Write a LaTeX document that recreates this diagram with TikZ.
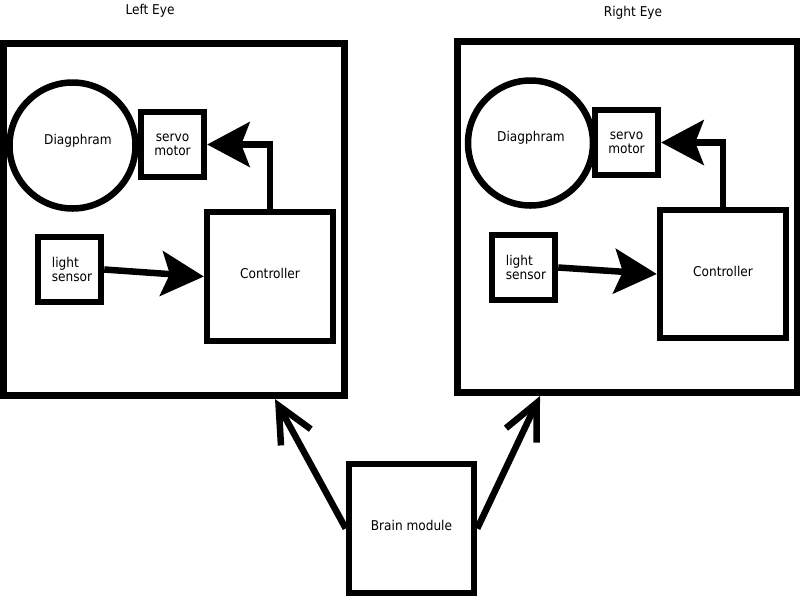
\documentclass[tikz,border=0pt]{standalone}
\usepackage{fontspec}
\setmainfont{DejaVu Sans Condensed}
\usetikzlibrary{arrows.meta}
\begin{document}
\begin{tikzpicture}[x=1pt,y=-1pt,
  eyebox/.style={draw,line width=7pt,rectangle,inner sep=0pt},
  part/.style={draw,line width=6.5pt,rectangle,inner sep=0pt,font=\fontsize{13.5}{16}\selectfont,align=center},
  roundpart/.style={draw,line width=6.5pt,circle,inner sep=0pt,font=\fontsize{13.5}{16}\selectfont},
  lbl/.style={font=\fontsize{13.5}{16}\selectfont,inner sep=0pt},
  fillarrow/.style={line width=6.5pt,-{Stealth[length=43pt,width=46pt,inset=9pt,line width=0pt]}},
  openarrow/.style={line width=6.5pt,-{Straight Barb[length=36pt,width=34pt]}}]
\useasboundingbox (0,0) rectangle (800,598);
\fill[white] (0,0) rectangle (800,598);
% Left eye
\node[lbl] (ltitle) at (150,11) {Left Eye};
\node[eyebox,minimum width=341pt,minimum height=352pt] (leye) at (173.5,219) {};
\node[roundpart,minimum size=126pt] (ldia) at (72.5,145.5) {};
\node[lbl] (ldiatext) at (78,141) {Diagphram};
\node[part,minimum width=63pt,minimum height=65pt] (lservo) at (172.5,144.5) {servo\\[-2pt]motor};
\node[part,minimum width=63pt,minimum height=65pt,align=left] (lsens) at (69.5,269.5) {\hspace*{5pt}light\\[-2pt]\hspace*{5pt}sensor};
\node[part,minimum width=126pt,minimum height=129pt] (lctrl) at (270,276.5) {\raisebox{6pt}{Controller}};
\draw[fillarrow] (lsens.east) -- (lctrl.west);
\draw[fillarrow] (lctrl.north) |- (lservo.east);
% Right eye
\node[lbl] (rtitle) at (633,13) {Right Eye};
\node[eyebox,minimum width=340pt,minimum height=351pt] (reye) at (627,216.5) {};
\node[roundpart,minimum size=125pt] (rdia) at (530.5,143) {};
\node[lbl] (rdiatext) at (531,138) {Diagphram};
\node[part,minimum width=63pt,minimum height=65pt] (rservo) at (626.5,142.5) {servo\\[-2pt]motor};
\node[part,minimum width=63pt,minimum height=65pt,align=left] (rsens) at (523.5,267.5) {\hspace*{5pt}light\\[-2pt]\hspace*{5pt}sensor};
\node[part,minimum width=126pt,minimum height=128pt] (rctrl) at (723,274) {\raisebox{6pt}{Controller}};
\draw[fillarrow] (rsens.east) -- (rctrl.west);
\draw[fillarrow] (rctrl.north) |- (rservo.east);
% Brain
\node[part,minimum width=125pt,minimum height=129pt] (brain) at (411.5,528.5) {\raisebox{6pt}{Brain module}};
\coordinate (lhit) at (275,399);
\coordinate (rhit) at (540,396);
\draw[openarrow] (brain.west) -- (lhit);
\draw[openarrow] (brain.east) -- (rhit);
\end{tikzpicture}
\end{document}
